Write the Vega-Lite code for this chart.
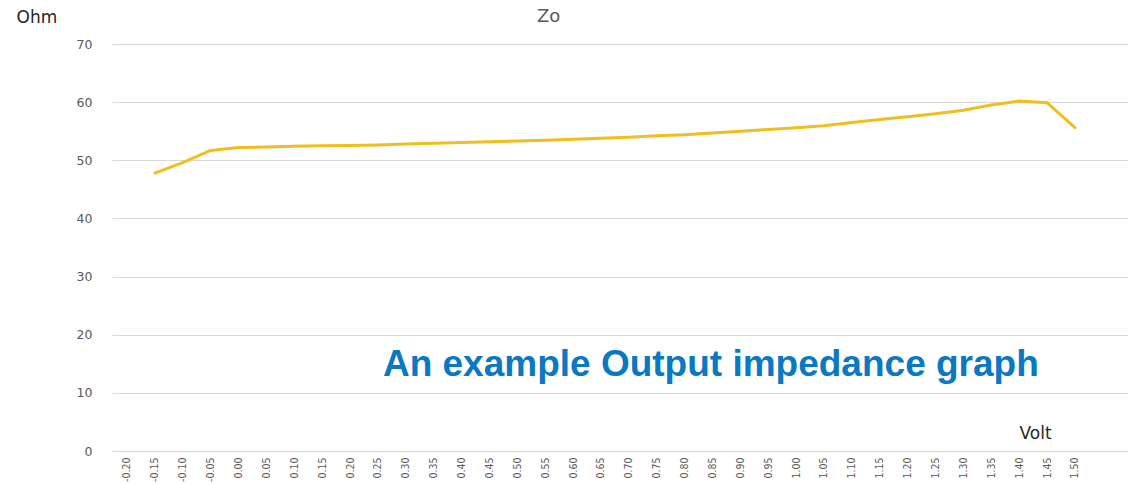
{
  "$schema": "https://vega.github.io/schema/vega-lite/v6.json",
  "autosize": {"type": "none"},
  "width": 1016,
  "height": 407,
  "padding": {"left": 112, "top": 44, "right": 0, "bottom": 33},
  "background": "white",
  "config": {
    "locale": {"number": {"decimal": ".", "thousands": ",", "grouping": [3], "currency": ["$", ""], "minus": "-"}},
    "view": {"stroke": null},
    "axisX": {
      "format": ".2f",
      "labelAngle": -90,
      "labelPadding": 6,
      "labelFont": "DejaVu Sans Condensed",
      "labelFontSize": 10.5,
      "labelColor": "#595959",
      "labelOverlap": false,
      "labelFlush": false,
      "domain": false,
      "ticks": false,
      "grid": false,
      "titleFont": "DejaVu Sans",
      "titleFontSize": 17,
      "titleFontWeight": "normal",
      "titleColor": "#262626",
      "titleAnchor": "start",
      "titleAlign": "left",
      "titleBaseline": "alphabetic",
      "titleX": 907,
      "titleY": -13
    },
    "axisY": {
      "domain": false,
      "ticks": false,
      "grid": true,
      "gridColor": "#D9D9D9",
      "gridWidth": 1,
      "labelPadding": 20,
      "labelFont": "DejaVu Sans",
      "labelFontSize": 12.5,
      "labelColor": "#595959",
      "titleAngle": 0,
      "titleFont": "DejaVu Sans",
      "titleFontSize": 17,
      "titleFontWeight": "normal",
      "titleColor": "#262626",
      "titleAlign": "left",
      "titleBaseline": "alphabetic",
      "titleX": -96,
      "titleY": -22
    }
  },
  "title": {
    "text": "Zo",
    "anchor": "start",
    "frame": "group",
    "dx": 425,
    "offset": -32,
    "baseline": "alphabetic",
    "font": "DejaVu Sans",
    "fontSize": 18,
    "fontWeight": "normal",
    "color": "#595959"
  },
  "data": {
    "values": [
      {"volt": -0.15, "zo": 47.8},
      {"volt": -0.10, "zo": 49.6},
      {"volt": -0.05, "zo": 51.7},
      {"volt": 0.00, "zo": 52.2},
      {"volt": 0.05, "zo": 52.3},
      {"volt": 0.10, "zo": 52.4},
      {"volt": 0.15, "zo": 52.5},
      {"volt": 0.20, "zo": 52.55},
      {"volt": 0.25, "zo": 52.65},
      {"volt": 0.30, "zo": 52.8},
      {"volt": 0.35, "zo": 52.95},
      {"volt": 0.40, "zo": 53.05},
      {"volt": 0.45, "zo": 53.2},
      {"volt": 0.50, "zo": 53.3},
      {"volt": 0.55, "zo": 53.45},
      {"volt": 0.60, "zo": 53.6},
      {"volt": 0.65, "zo": 53.8},
      {"volt": 0.70, "zo": 53.95},
      {"volt": 0.75, "zo": 54.2},
      {"volt": 0.80, "zo": 54.4},
      {"volt": 0.85, "zo": 54.7},
      {"volt": 0.90, "zo": 55.0},
      {"volt": 0.95, "zo": 55.3},
      {"volt": 1.00, "zo": 55.6},
      {"volt": 1.05, "zo": 55.95},
      {"volt": 1.10, "zo": 56.5},
      {"volt": 1.15, "zo": 57.0},
      {"volt": 1.20, "zo": 57.5},
      {"volt": 1.25, "zo": 58.0},
      {"volt": 1.30, "zo": 58.6},
      {"volt": 1.35, "zo": 59.5},
      {"volt": 1.40, "zo": 60.2},
      {"volt": 1.45, "zo": 59.9},
      {"volt": 1.50, "zo": 55.6}
    ]
  },
  "encoding": {
    "x": {
      "field": "volt",
      "type": "quantitative",
      "title": "Volt",
      "scale": {"domain": [-0.2269, 1.5952], "nice": false, "zero": false},
      "axis": {
        "values": [-0.2, -0.15, -0.1, -0.05, 0, 0.05, 0.1, 0.15, 0.2, 0.25, 0.3, 0.35, 0.4, 0.45, 0.5, 0.55, 0.6, 0.65, 0.7, 0.75, 0.8, 0.85, 0.9, 0.95, 1.0, 1.05, 1.1, 1.15, 1.2, 1.25, 1.3, 1.35, 1.4, 1.45, 1.5]
      }
    },
    "y": {
      "field": "zo",
      "type": "quantitative",
      "title": "Ohm",
      "scale": {"domain": [0, 70], "nice": false, "zero": true},
      "axis": {"values": [0, 10, 20, 30, 40, 50, 60, 70]}
    }
  },
  "layer": [
    {
      "mark": {"type": "line", "color": "#F0BE1E", "strokeWidth": 3, "strokeCap": "round", "strokeJoin": "round"}
    },
    {
      "data": {"values": [{"volt": 0.259, "zo": 12.9, "label": "An example Output impedance graph"}]},
      "mark": {
        "type": "text",
        "font": "Liberation Sans",
        "fontWeight": "bold",
        "fontSize": 37,
        "color": "#0A78C2",
        "align": "left",
        "baseline": "alphabetic"
      },
      "encoding": {
        "text": {"field": "label"}
      }
    }
  ]
}
